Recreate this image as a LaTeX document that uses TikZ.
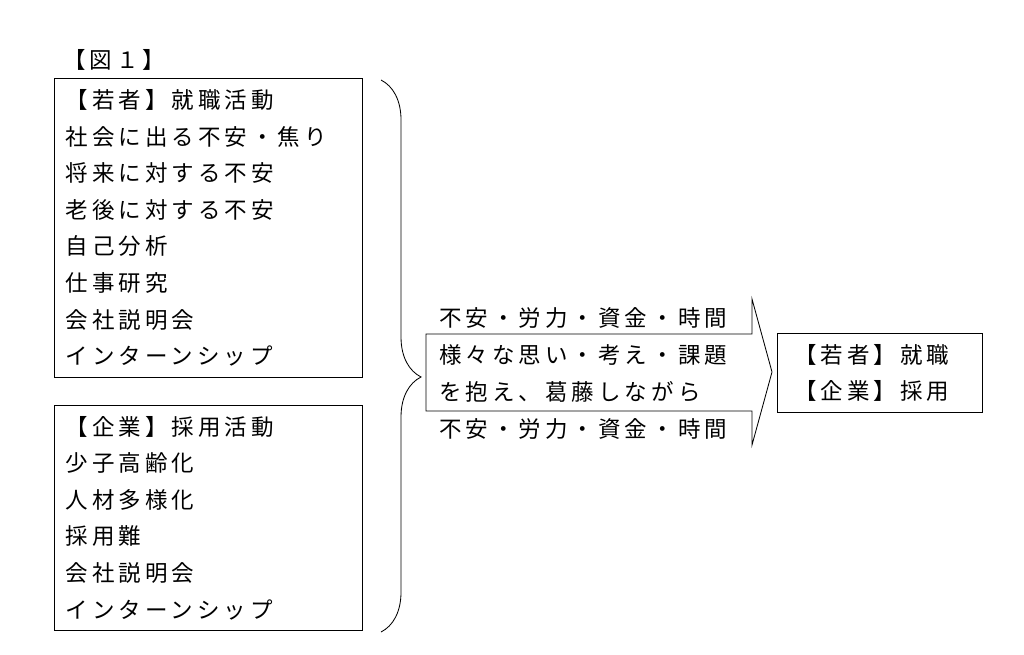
\documentclass[tikz,border=0pt]{standalone}
\usepackage{fontspec}
\setmainfont{Noto Sans CJK JP}[LetterSpace=18]
\usetikzlibrary{decorations.pathreplacing}

\begin{document}
\begin{tikzpicture}[
x=0.025cm, y=-0.025cm,
line width=0.6pt,
font=\fontsize{16pt}{26pt}\selectfont
]

\tikzstyle{lst} = [draw, shape=rectangle, anchor=north west, align=left, inner xsep=0.28cm, inner ysep=0pt]
\tikzstyle{res} = [draw, shape=rectangle, anchor=north west, align=left, inner xsep=0.42cm, inner ysep=0pt]

\useasboundingbox (0,0) rectangle (1024,654);

\node[anchor=west] (fig) at (58,60) {【図１】};

\node[lst, text width=7.14cm, minimum height=7.475cm] (young) at (54,78)
{【若者】就職活動\\社会に出る不安・焦り\\将来に対する不安\\老後に対する不安\\自己分析\\仕事研究\\会社説明会\\インターンシップ};

\node[lst, text width=7.14cm, minimum height=5.625cm] (firm) at (54,405)
{【企業】採用活動\\少子高齢化\\人材多様化\\採用難\\会社説明会\\インターンシップ};

% brace
\draw[decorate, decoration={brace, amplitude=1cm, aspect=0.538}] (381,80) -- (381,632);

% big arrow
\draw (426,334) -- (752,334) -- (752,299) -- (772,372) -- (752,445) -- (752,411) -- (426,411) -- cycle;

\node[anchor=west, align=left, font=\fontsize{16pt}{26.4pt}\selectfont] (worry) at (434,373.5)
{不安・労力・資金・時間\\様々な思い・考え・課題\\を抱え、葛藤しながら\\不安・労力・資金・時間};

\node[res, text width=4.285cm, minimum height=1.975cm] (goal) at (777,333)
{【若者】就職\\【企業】採用};

\end{tikzpicture}
\end{document}
